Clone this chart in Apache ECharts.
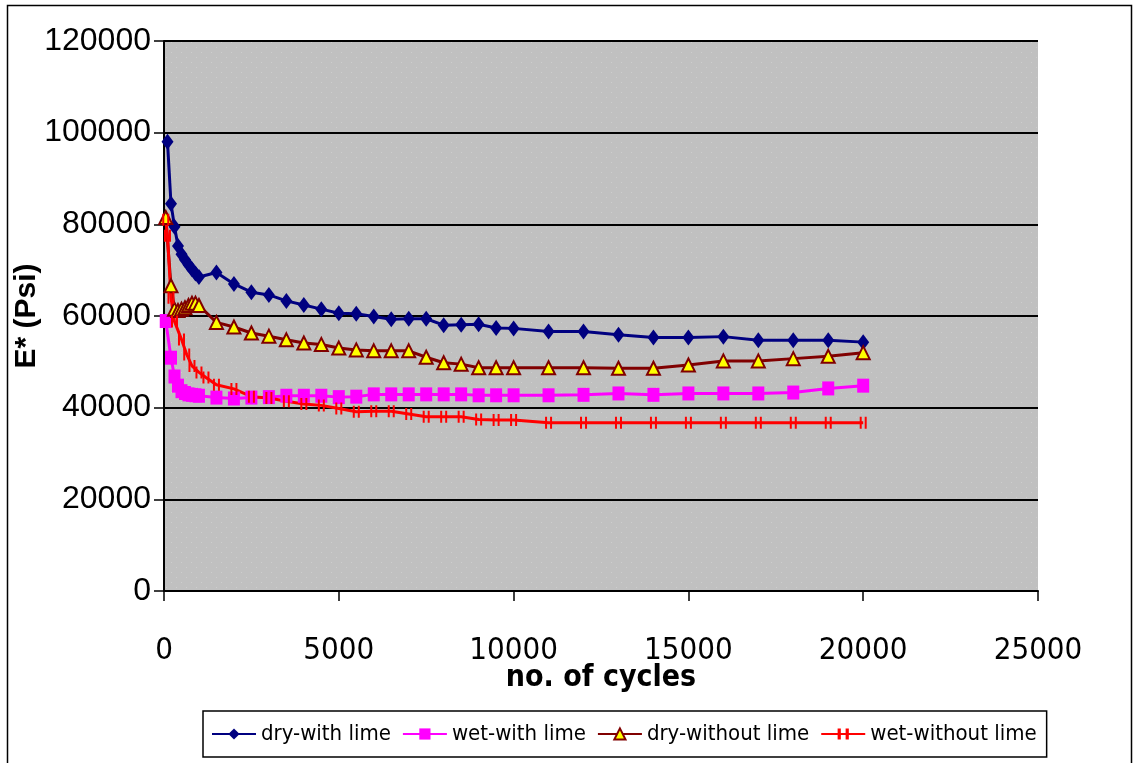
<!DOCTYPE html>
<html>
<head>
<meta charset="utf-8">
<script src="https://cdn.jsdelivr.net/npm/echarts@6/dist/echarts.min.js"></script>
<style>
  html, body { margin: 0; padding: 0; background: #fff; }
  #chart { width: 1138px; height: 763px; }
</style>
</head>
<body>
<div id="chart"></div>
<script>
// Dynamic modulus E* (psi) versus number of loading cycles
const seriesNames = ['dry-with lime', 'wet-with lime', 'dry-without lime', 'wet-without lime'];

const dryLimeCycles = [100, 200, 300, 400, 500, 600, 700, 800, 900, 1000, 1500, 2000, 2500, 3000, 3500, 4000, 4500, 5000, 5500, 6000, 6500, 7000, 7500, 8000, 8500, 9000, 9500, 10000, 11000, 12000, 13000, 14000, 15000, 16000, 17000, 18000, 19000, 20000];
const dryLimeValues = [98000, 84500, 79500, 75300, 73500, 72300, 71200, 70200, 69300, 68500, 69500, 67000, 65200, 64600, 63300, 62400, 61500, 60600, 60500, 59900, 59300, 59400, 59400, 58000, 58100, 58200, 57400, 57300, 56600, 56600, 55900, 55300, 55300, 55500, 54700, 54700, 54700, 54300];

const wetLimeCycles = [50, 200, 300, 400, 500, 600, 700, 800, 900, 1000, 1500, 2000, 2500, 3000, 3500, 4000, 4500, 5000, 5500, 6000, 6500, 7000, 7500, 8000, 8500, 9000, 9500, 10000, 11000, 12000, 13000, 14000, 15000, 16000, 17000, 18000, 19000, 20000];
const wetLimeValues = [58900, 50900, 46800, 44800, 43600, 43200, 42900, 42800, 42700, 42600, 42200, 42000, 42200, 42300, 42600, 42600, 42600, 42300, 42400, 42900, 42900, 42900, 42900, 42900, 42900, 42700, 42700, 42700, 42700, 42800, 43100, 42800, 43100, 43100, 43100, 43300, 44200, 44800];

const dryNoLimeCycles = [50, 200, 300, 400, 500, 600, 700, 800, 900, 1000, 1500, 2000, 2500, 3000, 3500, 4000, 4500, 5000, 5500, 6000, 6500, 7000, 7500, 8000, 8500, 9000, 9500, 10000, 11000, 12000, 13000, 14000, 15000, 16000, 17000, 18000, 19000, 20000];
const dryNoLimeValues = [81500, 66600, 61500, 61200, 61500, 61800, 62300, 62800, 62800, 62300, 58600, 57600, 56300, 55600, 54800, 54100, 53800, 53000, 52600, 52400, 52400, 52400, 51000, 49800, 49500, 48700, 48700, 48700, 48700, 48700, 48600, 48600, 49300, 50200, 50200, 50700, 51200, 52000];

const wetNoLimeCycles = [50, 100, 200, 300, 500, 650, 800, 1000, 1200, 1500, 2000, 2500, 3000, 3500, 4000, 4500, 5000, 5500, 6000, 6500, 7000, 7500, 8000, 8500, 9000, 9500, 10000, 11000, 12000, 13000, 14000, 15000, 16000, 17000, 18000, 19000, 20000];
const wetNoLimeValues = [81000, 77500, 64000, 58800, 54900, 51600, 49100, 47700, 46600, 45000, 44100, 42400, 42100, 41400, 40800, 40500, 39800, 39100, 39200, 39200, 38600, 38000, 38000, 38000, 37400, 37300, 37300, 36700, 36700, 36700, 36700, 36700, 36700, 36700, 36700, 36700, 36700];

const xTicks = { min: 0, max: 25000, interval: 5000 };
const yTicks = { min: 0, max: 120000, interval: 20000 };

function pairs(xs, ys) { return xs.map((x, i) => [x, ys[i]]); }
function plain(v) { return String(v); }

// speckled grey plot-area fill
function speckle() {
  const c = document.createElement('canvas');
  c.width = 10; c.height = 10;
  const g = c.getContext('2d');
  g.fillStyle = '#c0c0c0';
  g.fillRect(0, 0, 10, 10);
  g.fillStyle = '#cecece';
  g.fillRect(1, 2, 1, 1);
  g.fillRect(6, 7, 1, 1);
  return c;
}

const condensed = "'DejaVu Sans Condensed', 'Liberation Sans Narrow', sans-serif";
const regular = "'Liberation Sans', Arial, sans-serif";

const barsPath = 'path://M0,0 L2,0 L2,10 L0,10 Z M5,0 L7,0 L7,10 L5,10 Z';

const chart = echarts.init(document.getElementById('chart'));
chart.setOption({
  animation: false,
  backgroundColor: '#ffffff',
  graphic: [{
    type: 'rect',
    shape: { x: 7.5, y: 5.5, width: 1124, height: 800 },
    style: { fill: 'none', stroke: '#000', lineWidth: 1.5 },
    silent: true
  }],
  grid: {
    left: 164, right: 100, top: 41, bottom: 172,
    containLabel: false,
    outerBoundsMode: 'none',
    show: true,
    backgroundColor: { image: speckle(), repeat: 'repeat' },
    borderWidth: 0
  },
  legend: {
    left: 203, top: 711,
    padding: [12, 10, 12, 8],
    itemGap: 11,
    itemWidth: 44, itemHeight: 14,
    borderColor: '#000', borderWidth: 1.5,
    backgroundColor: '#fff',
    textStyle: { fontFamily: condensed, fontSize: 22, color: '#000' },
    data: seriesNames
  },
  xAxis: {
    type: 'value',
    min: xTicks.min, max: xTicks.max, interval: xTicks.interval,
    name: 'no. of cycles',
    nameLocation: 'middle',
    nameGap: 72,
    nameMoveOverlap: false,
    nameTextStyle: { fontFamily: condensed, fontSize: 30, fontWeight: 'bold', color: '#000' },
    axisLine: { show: true, onZero: false, lineStyle: { color: '#000', width: 2 } },
    axisTick: { show: true, length: 10, lineStyle: { color: '#000', width: 1.5 } },
    axisLabel: { margin: 44, fontFamily: condensed, fontSize: 31, color: '#000', formatter: plain },
    splitLine: { show: false }
  },
  yAxis: {
    type: 'value',
    min: yTicks.min, max: yTicks.max, interval: yTicks.interval,
    name: 'E* (Psi)',
    nameLocation: 'middle',
    nameGap: 122,
    nameMoveOverlap: false,
    nameTextStyle: { fontFamily: regular, fontSize: 30, fontWeight: 'bold', color: '#000' },
    axisLine: { show: true, lineStyle: { color: '#000', width: 2 } },
    axisTick: { show: true, length: 10, lineStyle: { color: '#000', width: 1.5 } },
    axisLabel: { margin: 13, fontFamily: regular, fontSize: 32, color: '#000', formatter: plain },
    splitLine: { show: true, lineStyle: { color: '#000', width: 2 } }
  },
  series: [
    {
      name: seriesNames[0], type: 'line',
      data: pairs(dryLimeCycles, dryLimeValues),
      showAllSymbol: true, symbol: 'diamond', symbolSize: [12, 16],
      lineStyle: { color: '#000080', width: 3 },
      itemStyle: { color: '#000080' }
    },
    {
      name: seriesNames[1], type: 'line',
      data: pairs(wetLimeCycles, wetLimeValues),
      showAllSymbol: true, symbol: 'rect', symbolSize: [12, 14],
      lineStyle: { color: '#ff00ff', width: 3 },
      itemStyle: { color: '#ff00ff' }
    },
    {
      name: seriesNames[2], type: 'line',
      data: pairs(dryNoLimeCycles, dryNoLimeValues),
      showAllSymbol: true, symbol: 'triangle', symbolSize: [13, 13],
      lineStyle: { color: '#800000', width: 3 },
      itemStyle: { color: '#ffff00', borderColor: '#800000', borderWidth: 2 }
    },
    {
      name: seriesNames[3], type: 'line',
      data: pairs(wetNoLimeCycles, wetNoLimeValues),
      showAllSymbol: true, symbol: barsPath, symbolSize: [7, 12],
      lineStyle: { color: '#ff0000', width: 3 },
      itemStyle: { color: '#ff0000' }
    }
  ]
});
</script>
</body>
</html>
